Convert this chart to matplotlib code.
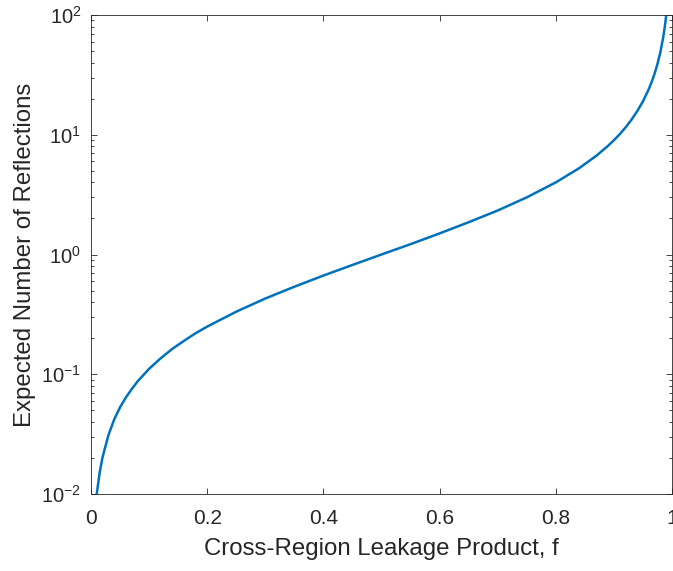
import matplotlib
matplotlib.use("Agg")
import matplotlib.pyplot as plt
from matplotlib.ticker import FixedLocator, LogLocator, NullFormatter

# Leakage product and expected reflection count
leak_f = [0.01, 0.015, 0.02, 0.03, 0.04, 0.05, 0.06, 0.07, 0.08, 0.10,
          0.12, 0.14, 0.16, 0.18, 0.20, 0.25, 0.30, 0.35, 0.40, 0.45,
          0.50, 0.55, 0.60, 0.65, 0.70, 0.75, 0.80, 0.84, 0.87, 0.89,
          0.90, 0.91, 0.92, 0.93, 0.94, 0.95, 0.96, 0.965, 0.97, 0.975,
          0.98, 0.985, 0.988, 0.99]
reflections = [0.0101, 0.0152, 0.0204, 0.031, 0.042, 0.053, 0.064, 0.075, 0.087, 0.111,
               0.136, 0.163, 0.19, 0.22, 0.25, 0.333, 0.429, 0.538, 0.667, 0.818,
               1.0, 1.22, 1.5, 1.86, 2.33, 3.0, 4.0, 5.25, 6.69, 8.09,
               9.0, 10.1, 11.5, 13.3, 15.7, 19.0, 24.0, 27.6, 32.3, 39.0,
               49.0, 65.7, 82.3, 99.0]

x_ticks = [0, 0.2, 0.4, 0.6, 0.8, 1]
x_tick_labels = ["0", "0.2", "0.4", "0.6", "0.8", "1"]
y_ticks = [1e-2, 1e-1, 1e0, 1e1, 1e2]
y_tick_labels = [r"$10^{-2}$", r"$10^{-1}$", r"$10^{0}$", r"$10^{1}$", r"$10^{2}$"]

plt.rcParams["font.family"] = ["Liberation Sans", "DejaVu Sans"]
plt.rcParams["mathtext.fontset"] = "custom"
plt.rcParams["mathtext.rm"] = "Liberation Sans"
plt.rcParams["mathtext.default"] = "regular"

ink = "#262626"
fig = plt.figure(figsize=(6.73, 5.71), dpi=100)
ax = fig.add_axes([91 / 673, 77 / 571, 581 / 673, 479 / 571])

ax.plot(leak_f, reflections, color="#0072BD", linewidth=1.8)
ax.set_yscale("log")
ax.set_xlim(0, 1)
ax.set_ylim(1e-2, 1e2)

ax.xaxis.set_major_locator(FixedLocator(x_ticks))
ax.set_xticklabels(x_tick_labels)
ax.yaxis.set_major_locator(FixedLocator(y_ticks))
ax.set_yticklabels(y_tick_labels)
ax.yaxis.set_minor_locator(LogLocator(base=10, subs=range(2, 10), numticks=20))
ax.yaxis.set_minor_formatter(NullFormatter())

ax.tick_params(which="both", direction="in", top=True, right=True,
               colors=ink, width=0.6)
ax.tick_params(which="major", length=4.5)
ax.tick_params(which="minor", length=2.3)
ax.tick_params(axis="x", which="major", labelsize=15, pad=11)
ax.tick_params(axis="y", which="major", labelsize=14.5, pad=7)
for s in ax.spines.values():
    s.set_color(ink)
    s.set_linewidth(0.6)

ax.set_xlabel("Cross-Region Leakage Product, f", fontsize=17.3, color=ink, labelpad=7)
ax.set_ylabel("Expected Number of Reflections", fontsize=17.3, color=ink, labelpad=4)

fig.savefig("out.png", dpi=100)
